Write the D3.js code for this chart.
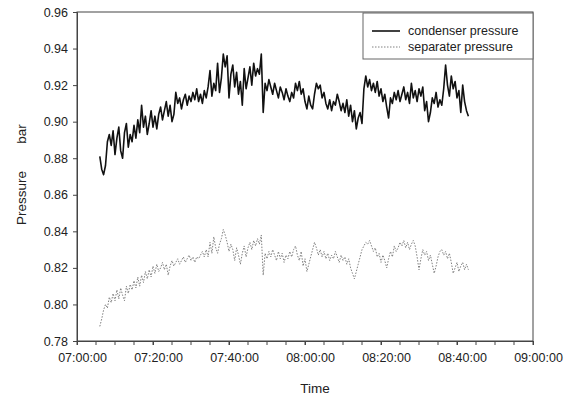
<!DOCTYPE html>
<html>
<head>
<meta charset="utf-8">
<script src="https://cdn.jsdelivr.net/npm/d3@7"></script>
<style>
  body { margin: 0; background: #fff; }
  text { font-family: Arial, "Liberation Sans", sans-serif; fill: #222; }
</style>
</head>
<body>
<div id="chart"></div>
<script>
// samples every 30 s starting 07:06:00
const sampleStart = "07:06:00";
const sampleStepSec = 30;

const condenser = [
  0.881, 0.874, 0.871, 0.876, 0.889, 0.893, 0.887, 0.895, 0.882, 0.891,
  0.897, 0.884, 0.880, 0.894, 0.899, 0.886, 0.893, 0.889, 0.898, 0.891,
  0.901, 0.894, 0.909, 0.897, 0.903, 0.893, 0.899, 0.906, 0.897, 0.903,
  0.896, 0.904, 0.908, 0.901, 0.906, 0.911, 0.903, 0.909, 0.900, 0.904,
  0.916, 0.910, 0.913, 0.907, 0.912, 0.915, 0.909, 0.914, 0.911, 0.916,
  0.912, 0.918, 0.911, 0.915, 0.910, 0.917, 0.913, 0.919, 0.928, 0.914,
  0.921, 0.917, 0.932, 0.916, 0.924, 0.937, 0.930, 0.936, 0.913, 0.926,
  0.931, 0.919, 0.927, 0.915, 0.922, 0.909, 0.929, 0.918, 0.924, 0.930,
  0.920, 0.932, 0.925, 0.929, 0.926, 0.937, 0.905, 0.921, 0.917, 0.923,
  0.919, 0.915, 0.921, 0.917, 0.913, 0.919, 0.916, 0.912, 0.918, 0.914,
  0.911, 0.916, 0.913, 0.921, 0.917, 0.922, 0.915, 0.918, 0.911, 0.907,
  0.914, 0.909, 0.907, 0.915, 0.921, 0.918, 0.920, 0.913, 0.916, 0.910,
  0.907, 0.912, 0.906, 0.911, 0.909, 0.915, 0.911, 0.906, 0.910, 0.905,
  0.912, 0.903, 0.909, 0.900, 0.906, 0.896, 0.902, 0.905, 0.899, 0.918,
  0.925, 0.919, 0.923, 0.917, 0.921, 0.916, 0.922, 0.914, 0.918, 0.911,
  0.915, 0.908, 0.902, 0.913, 0.910, 0.916, 0.912, 0.917, 0.911, 0.915,
  0.919, 0.912, 0.916, 0.910, 0.921, 0.913, 0.917, 0.911, 0.918, 0.914,
  0.919, 0.906, 0.911, 0.900, 0.905, 0.913, 0.910, 0.916, 0.908, 0.912,
  0.909, 0.918, 0.931, 0.920, 0.914, 0.925, 0.918, 0.922, 0.913, 0.917,
  0.905, 0.920, 0.911, 0.906, 0.903
];

const separater = [
  0.788, 0.792, 0.797, 0.800, 0.798, 0.804, 0.801, 0.806, 0.802, 0.808,
  0.803, 0.809, 0.805, 0.802, 0.810, 0.806, 0.811, 0.808, 0.813, 0.809,
  0.815, 0.810, 0.816, 0.812, 0.818, 0.814, 0.819, 0.815, 0.821, 0.817,
  0.822, 0.818, 0.820, 0.823, 0.819, 0.822, 0.816, 0.821, 0.824, 0.821,
  0.823, 0.825, 0.822, 0.824, 0.826, 0.823, 0.825, 0.827, 0.824, 0.826,
  0.823, 0.826, 0.825, 0.827, 0.829, 0.826, 0.830, 0.826, 0.834, 0.828,
  0.837, 0.831, 0.828, 0.833, 0.836, 0.841, 0.838, 0.834, 0.829, 0.833,
  0.830, 0.824, 0.831, 0.827, 0.822, 0.828, 0.832, 0.826, 0.831, 0.834,
  0.830, 0.835, 0.832, 0.836, 0.833, 0.838, 0.816, 0.828, 0.825, 0.829,
  0.826, 0.830, 0.827, 0.824, 0.829, 0.825, 0.828, 0.823, 0.827, 0.825,
  0.829, 0.826, 0.830, 0.832, 0.827, 0.824, 0.829, 0.821, 0.825, 0.818,
  0.822, 0.826, 0.830, 0.834, 0.831, 0.827, 0.830, 0.826, 0.829, 0.825,
  0.828, 0.824, 0.827, 0.825, 0.829, 0.826, 0.823, 0.827, 0.824, 0.826,
  0.822, 0.825, 0.820, 0.817, 0.814, 0.818, 0.822, 0.826, 0.830, 0.832,
  0.834, 0.833, 0.835, 0.832, 0.829, 0.831, 0.826, 0.828, 0.823, 0.827,
  0.824, 0.820, 0.825, 0.829, 0.826, 0.832, 0.829, 0.831, 0.834, 0.832,
  0.835, 0.831, 0.834, 0.830, 0.833, 0.835, 0.832, 0.826, 0.819, 0.825,
  0.830, 0.827, 0.829, 0.824, 0.827, 0.822, 0.817, 0.821, 0.826, 0.829,
  0.830, 0.827, 0.829, 0.825, 0.828, 0.823, 0.817, 0.820, 0.823, 0.818,
  0.821, 0.823, 0.819, 0.822, 0.819
];

const yTicks = [0.78, 0.80, 0.82, 0.84, 0.86, 0.88, 0.90, 0.92, 0.94, 0.96];
const xRange = ["07:00:00", "09:00:00"];
const seriesNames = ["condenser pressure", "separater pressure"];

const width = 568;
const height = 396;
const margin = { top: 12, right: 35, bottom: 55, left: 77 };

const parse = d3.timeParse("%H:%M:%S");
const t0 = parse(sampleStart);
const times = condenser.map((d, i) => d3.timeSecond.offset(t0, i * sampleStepSec));

const svg = d3.select("#chart")
  .append("svg")
  .attr("width", width)
  .attr("height", height);

const x = d3.scaleTime()
  .domain(xRange.map(parse))
  .range([margin.left, width - margin.right]);

const y = d3.scaleLinear()
  .domain([0.78, 0.96])
  .range([height - margin.bottom, margin.top]);

// frame
svg.append("rect")
  .attr("x", margin.left)
  .attr("y", margin.top)
  .attr("width", width - margin.right - margin.left)
  .attr("height", height - margin.bottom - margin.top)
  .attr("fill", "none")
  .attr("stroke", "#444")
  .attr("stroke-width", 1);

const line = d3.line()
  .x((d, i) => x(times[i]))
  .y(d => y(d));

svg.append("path")
  .datum(separater)
  .attr("fill", "none")
  .attr("stroke", "#808080")
  .attr("stroke-width", 1)
  .attr("stroke-dasharray", "1.5,1.5")
  .attr("d", line);

svg.append("path")
  .datum(condenser)
  .attr("fill", "none")
  .attr("stroke", "#111")
  .attr("stroke-width", 1.6)
  .attr("stroke-linejoin", "round")
  .attr("d", line);

// axes
const xAxis = g => {
  g.attr("transform", `translate(0,${height - margin.bottom})`)
    .call(d3.axisBottom(x)
      .ticks(d3.timeMinute.every(20))
      .tickFormat(d3.timeFormat("%H:%M:%S"))
      .tickSize(4)
      .tickPadding(8));
  g.selectAll(".tick text").attr("dx", 5).attr("font-size", "12.5px");
  g.append("g")
    .selectAll("line")
    .data(x.ticks(d3.timeMinute.every(5)))
    .join("line")
    .attr("x1", d => x(d)).attr("x2", d => x(d))
    .attr("y1", 0).attr("y2", 4)
    .attr("stroke", "#444");
};

const yAxis = g => {
  g.attr("transform", `translate(${margin.left},0)`)
    .call(d3.axisLeft(y)
      .tickValues(yTicks)
      .tickFormat(d3.format(".2f"))
      .tickSize(4)
      .tickPadding(5));
  g.selectAll(".tick text").attr("font-size", "12.5px");
};

svg.append("g").call(xAxis);
svg.append("g").call(yAxis);
svg.selectAll(".domain").attr("stroke", "#444");
svg.selectAll(".tick line").attr("stroke", "#444");
svg.selectAll(".tick text").attr("fill", "#222").attr("font-family", "Arial, 'Liberation Sans', sans-serif");

// axis titles
svg.append("text")
  .attr("x", (margin.left + width - margin.right) / 2 + 10)
  .attr("y", 393)
  .attr("text-anchor", "middle")
  .attr("font-size", "13.5px")
  .text("Time");

svg.append("text")
  .attr("transform", "translate(26,198) rotate(-90)")
  .attr("text-anchor", "middle")
  .attr("font-size", "13.5px")
  .text("Pressure");

svg.append("text")
  .attr("transform", "translate(26,134) rotate(-90)")
  .attr("text-anchor", "middle")
  .attr("font-size", "13.5px")
  .text("bar");

// legend
const legend = svg.append("g");
legend.append("rect")
  .attr("x", 363).attr("y", 13)
  .attr("width", width - margin.right - 363).attr("height", 46)
  .attr("fill", "#fff")
  .attr("stroke", "#666");

const legendStyles = [
  { stroke: "#111", width: 1.6, dash: null },
  { stroke: "#808080", width: 1, dash: "1.5,1.5" }
];

seriesNames.forEach((name, i) => {
  const ly = 31 + i * 16;
  legend.append("line")
    .attr("x1", 372).attr("x2", 400)
    .attr("y1", ly).attr("y2", ly)
    .attr("stroke", legendStyles[i].stroke)
    .attr("stroke-width", legendStyles[i].width)
    .attr("stroke-dasharray", legendStyles[i].dash);
  legend.append("text")
    .attr("x", 408)
    .attr("y", ly + 4)
    .attr("font-size", "12.5px")
    .text(name);
});
</script>
</body>
</html>
